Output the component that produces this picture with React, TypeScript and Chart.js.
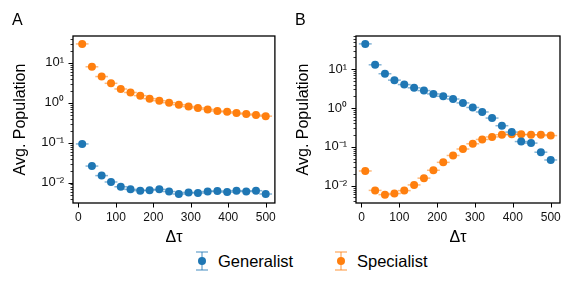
import React, { useEffect, useRef } from "react";
import { Chart, registerables } from "chart.js";
Chart.register(...registerables);

const FONT = "'Liberation Sans', Arial, sans-serif";

const deltaTau = [10, 36, 62, 87, 113, 139, 165, 190, 216, 242, 268, 294, 319, 345, 371, 397, 422, 448, 474, 500];
const xErr = [17, 17, 17, 17, 17, 17, 17, 17, 17, 17, 17, 17, 17, 17, 17, 17, 17, 17, 17, 17];

const generalistA = [0.093, 0.026, 0.015, 0.0104, 0.0079, 0.0068, 0.0063, 0.0065, 0.0068, 0.006, 0.0052, 0.0057, 0.0055, 0.006, 0.0062, 0.0058, 0.0063, 0.006, 0.0063, 0.0052];
const specialistA = [29.5, 7.9, 4.5, 3.05, 2.2, 1.8, 1.5, 1.26, 1.12, 1.0, 0.89, 0.8, 0.74, 0.68, 0.62, 0.59, 0.55, 0.52, 0.49, 0.46];

const generalistB = [44.5, 12.9, 7.6, 5.2, 4.0, 3.3, 2.8, 2.3, 2.0, 1.7, 1.35, 1.03, 0.79, 0.55, 0.35, 0.24, 0.137, 0.125, 0.073, 0.046];
const specialistB = [0.024, 0.0076, 0.0059, 0.0063, 0.0075, 0.0105, 0.0157, 0.025, 0.04, 0.06, 0.088, 0.12, 0.155, 0.18, 0.205, 0.21, 0.21, 0.205, 0.205, 0.195];

const xTicks = [0, 100, 200, 300, 400, 500];
const yMajorTicks = [0.01, 0.1, 1, 10];
const yTickLabels = ["10⁻²", "10⁻¹", "10⁰", "10¹"];

const BLUE = "#1f77b4";
const ORANGE = "#ff7f0e";
const BLUE_ERR = "rgba(31,119,180,0.55)";
const ORANGE_ERR = "rgba(255,127,14,0.55)";

const decoPlugin = {
  id: "deco",
  beforeDatasetsDraw(chart: any) {
    const ctx = chart.ctx;
    const xs = chart.scales.x;
    const ys = chart.scales.y;
    ctx.save();
    ctx.lineWidth = 1.5;
    chart.data.datasets.forEach((ds: any) => {
      ctx.strokeStyle = ds.errColor;
      ds.data.forEach((p: any, i: number) => {
        const e = xErr[i];
        const y = ys.getPixelForValue(p.y);
        ctx.beginPath();
        ctx.moveTo(xs.getPixelForValue(p.x - e), y);
        ctx.lineTo(xs.getPixelForValue(p.x + e), y);
        ctx.stroke();
      });
    });
    ctx.restore();
  },
  afterDraw(chart: any) {
    const ctx = chart.ctx;
    const { left, right, top, bottom } = chart.chartArea;
    const xs = chart.scales.x;
    const ys = chart.scales.y;
    ctx.save();
    ctx.strokeStyle = "#000";
    ctx.lineWidth = 1;
    xTicks.forEach((v) => {
      const x = Math.round(xs.getPixelForValue(v)) + 0.5;
      ctx.beginPath();
      ctx.moveTo(x, bottom);
      ctx.lineTo(x, bottom + 4.5);
      ctx.stroke();
    });
    const minE = Math.floor(Math.log10(ys.min));
    const maxE = Math.ceil(Math.log10(ys.max));
    for (let e = minE; e <= maxE; e++) {
      for (let m = 1; m <= 9; m++) {
        const v = m * Math.pow(10, e);
        if (v < ys.min || v > ys.max) continue;
        const y = Math.round(ys.getPixelForValue(v)) + 0.5;
        ctx.lineWidth = m === 1 ? 1 : 0.8;
        ctx.beginPath();
        ctx.moveTo(left, y);
        ctx.lineTo(left - (m === 1 ? 4.5 : 2.5), y);
        ctx.stroke();
      }
    }
    ctx.lineWidth = 1.3;
    ctx.strokeRect(left, top, right - left, bottom - top);
    ctx.fillStyle = "#000";
    ctx.font = `16px ${FONT}`;
    ctx.textBaseline = "middle";
    ctx.textAlign = "left";
    ctx.fillText(chart.options.plugins.deco.letter, 12, 21);
    ctx.restore();
  },
};

function Panel(props: { letter: string; gen: number[]; spec: number[]; yMin: number; yMax: number; width: number; rightPad: number; left: number }) {
  const ref = useRef<HTMLCanvasElement>(null);
  useEffect(() => {
    const canvas = ref.current;
    if (!canvas) return;
    const chart = new Chart(canvas, {
      type: "scatter",
      data: {
        datasets: [
          {
            label: "Generalist",
            data: deltaTau.map((x, i) => ({ x, y: props.gen[i] })),
            backgroundColor: BLUE,
            borderColor: BLUE,
            borderWidth: 0,
            pointRadius: 4,
            errColor: BLUE_ERR,
          } as any,
          {
            label: "Specialist",
            data: deltaTau.map((x, i) => ({ x, y: props.spec[i] })),
            backgroundColor: ORANGE,
            borderColor: ORANGE,
            borderWidth: 0,
            pointRadius: 4,
            errColor: ORANGE_ERR,
          } as any,
        ],
      },
      options: {
        animation: false,
        responsive: false,
        maintainAspectRatio: false,
        layout: { padding: { top: 36, right: props.rightPad, left: 0, bottom: 0 } },
        plugins: {
          legend: { display: false },
          tooltip: { enabled: false },
          deco: { letter: props.letter },
        } as any,
        scales: {
          x: {
            type: "linear",
            min: -14.5,
            max: 524.5,
            grid: { display: false, drawTicks: false },
            border: { display: false },
            afterBuildTicks: (s: any) => {
              s.ticks = xTicks.map((v) => ({ value: v }));
            },
            afterFit: (s: any) => {
              s.height = 47;
            },
            ticks: {
              padding: 7,
              color: "#111",
              font: { size: 12, family: FONT },
              maxRotation: 0,
              callback: (v: any) => String(v),
            },
            title: {
              display: true,
              text: "Δτ",
              color: "#000",
              font: { size: 16, family: FONT },
              padding: { top: 0, bottom: 2.4 },
            },
          },
          y: {
            type: "logarithmic",
            min: props.yMin,
            max: props.yMax,
            grid: { display: false, drawTicks: false },
            border: { display: false },
            afterBuildTicks: (s: any) => {
              s.ticks = yMajorTicks.map((v) => ({ value: v }));
            },
            afterFit: (s: any) => {
              s.width = 73;
            },
            ticks: {
              padding: 9,
              color: "#111",
              font: { size: 13, family: FONT },
              callback: (_v: any, i: number) => yTickLabels[i],
            },
            title: {
              display: true,
              text: "Avg. Population",
              color: "#000",
              font: { size: 16, family: FONT },
              padding: { top: 11.4, bottom: 0 },
            },
          },
        },
      },
      plugins: [decoPlugin as any],
    });
    return () => chart.destroy();
  }, []);
  return (
    <canvas
      ref={ref}
      width={props.width}
      height={250}
      style={{ position: "absolute", left: props.left, top: 0, width: props.width, height: 250 }}
    />
  );
}

function LegendIcon(props: { color: string; err: string }) {
  return (
    <svg width={16} height={20} style={{ display: "block" }}>
      <line x1={8} y1={1} x2={8} y2={19} stroke={props.err} strokeWidth={1.5} />
      <line x1={2} y1={1} x2={14} y2={1} stroke={props.err} strokeWidth={1.5} />
      <line x1={2} y1={19} x2={14} y2={19} stroke={props.err} strokeWidth={1.5} />
      <circle cx={8} cy={10} r={4} fill={props.color} />
    </svg>
  );
}

export default function App() {
  return (
    <div style={{ position: "fixed", left: 0, top: 0, width: 573, height: 289, background: "#fff", overflow: "hidden" }}>
      <Panel letter="A" gen={generalistA} spec={specialistA} yMin={0.0031} yMax={46.5} width={283} rightPad={6} left={0} />
      <Panel letter="B" gen={generalistB} spec={specialistB} yMin={0.0036} yMax={71} width={290} rightPad={13} left={283} />
      <div style={{ position: "absolute", left: 194, top: 251 }}>
        <LegendIcon color={BLUE} err={BLUE_ERR} />
      </div>
      <div style={{ position: "absolute", left: 218, top: 251, font: `16.5px ${FONT}`, lineHeight: "20px", color: "#000" }}>Generalist</div>
      <div style={{ position: "absolute", left: 333, top: 251 }}>
        <LegendIcon color={ORANGE} err={ORANGE_ERR} />
      </div>
      <div style={{ position: "absolute", left: 357, top: 251, font: `16.5px ${FONT}`, lineHeight: "20px", color: "#000" }}>Specialist</div>
    </div>
  );
}
